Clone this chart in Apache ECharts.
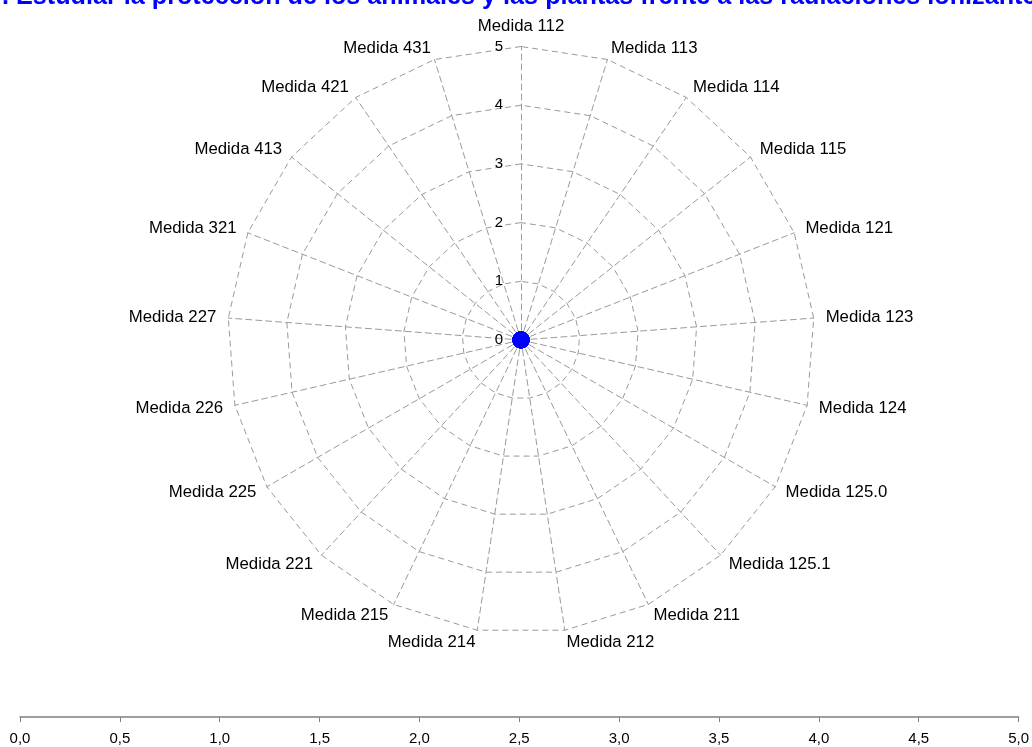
<!DOCTYPE html>
<html>
<head>
<meta charset="utf-8">
<script src="https://cdn.jsdelivr.net/npm/echarts@6/dist/echarts.min.js"></script>
<style>
html,body{margin:0;padding:0;background:#fff;}
#chart{width:1032px;height:747px;}
</style>
</head>
<body>
<div id="chart"></div>
<script>
// Chart data
const titleText = '. Estudiar la protección de los animales y las plantas frente a las radiaciones ionizantes';
// indicators in clockwise order starting at the top
const categories = ['Medida 112','Medida 113','Medida 114','Medida 115','Medida 121','Medida 123','Medida 124',
  'Medida 125.0','Medida 125.1','Medida 211','Medida 212','Medida 214','Medida 215','Medida 221',
  'Medida 225','Medida 226','Medida 227','Medida 321','Medida 413','Medida 421','Medida 431'];
const values = [0,0,0,0,0,0,0,0,0,0,0,0,0,0,0,0,0,0,0,0,0];
const radarMax = 5;
const radarSplits = 5;
const scaleMin = 0, scaleMax = 5, scaleStep = 0.5;

// ECharts radar runs counter-clockwise: reverse everything after the first indicator
const order = [0].concat(categories.map((c,i)=>i).slice(1).reverse());
const indicators = order.map((i, k) => {
  const o = {name: categories[i], max: radarMax, min: 0};
  if (k === 0) o.axisLabel = {show: true};
  return o;
});
const seriesValues = order.map(i => values[i]);

const gray = '#9a9a9a';
const chart = echarts.init(document.getElementById('chart'), null, {renderer: 'canvas'});
chart.setOption({
  backgroundColor: '#ffffff',
  animation: false,
  title: {
    text: titleText,
    left: -3,
    top: -20,
    textStyle: {color: '#0000ff', fontWeight: 'bold', fontSize: 25.2, fontFamily: 'Liberation Sans'}
  },
  radar: {
    center: [521, 340],
    radius: 293.5,
    startAngle: 90,
    shape: 'polygon',
    splitNumber: radarSplits,
    indicator: indicators,
    axisName: {color: '#000', fontSize: 16.8, fontFamily: 'Liberation Sans'},
    nameGap: 12,
    axisLine: {lineStyle: {color: gray, type: [6, 4], width: 1}},
    splitLine: {lineStyle: {color: gray, type: [6, 4], width: 1}},
    splitArea: {show: false},
    axisTick: {show: false},
    axisLabel: {show: false, color: '#000', fontSize: 15, fontFamily: 'Liberation Sans', margin: 18}
  },
  grid: {left: 20, right: 11, top: 716, bottom: 30, containLabel: false},
  xAxis: {
    type: 'value', min: scaleMin, max: scaleMax, interval: scaleStep, position: 'bottom',
    axisLine: {show: true, onZero: false, lineStyle: {color: '#7f7f7f', width: 1.5}},
    axisTick: {show: true, length: 5, lineStyle: {color: '#7f7f7f'}},
    splitLine: {show: false},
    axisLabel: {color: '#000', fontSize: 15, fontFamily: 'Liberation Sans', margin: 14,
      formatter: v => v.toFixed(1).replace('.', ',')}
  },
  yAxis: {type: 'value', show: false, min: 0, max: 1},
  series: [{
    type: 'radar',
    symbol: 'circle',
    symbolSize: 17,
    itemStyle: {color: '#0000ff'},
    lineStyle: {width: 0},
    data: [{value: seriesValues}]
  }]
});
</script>
</body>
</html>
